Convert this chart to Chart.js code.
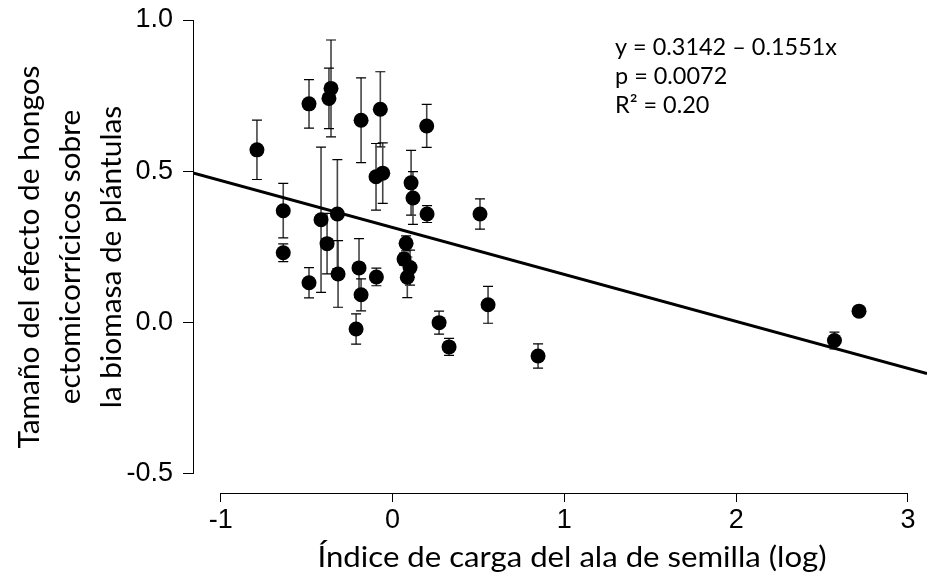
<!DOCTYPE html>
<html><head><meta charset="utf-8">
<script src="https://cdn.jsdelivr.net/npm/chart.js@4.4.1/dist/chart.umd.min.js"></script>
<style>html,body{margin:0;padding:0;background:#fff;}#wrap{width:927px;height:585px;}</style>
</head><body><div id="wrap"><canvas id="c" width="927" height="585"></canvas></div>
<script>
// ---- data ----
const xVals = [-0.789, -0.636, -0.636, -0.486, -0.486, -0.416, -0.381, -0.358, -0.370, -0.321,
               -0.317, -0.183, -0.195, -0.183, -0.212, -0.071, -0.096, -0.057, -0.094, 0.108,
               0.119, 0.201, 0.199, 0.509, 0.079, 0.067, 0.102, 0.086, 0.556, 0.271,
               0.329, 0.847, 2.715, 2.572];
const yVals = [0.571, 0.370, 0.231, 0.723, 0.132, 0.340, 0.261, 0.774, 0.741, 0.359,
               0.161, 0.669, 0.181, 0.092, -0.021, 0.705, 0.482, 0.494, 0.151, 0.462,
               0.412, 0.359, 0.650, 0.359, 0.262, 0.210, 0.182, 0.150, 0.059, 0.000,
               -0.080, -0.110, 0.038, -0.059];
const yErr  = [0.098, 0.090, 0.029, 0.080, 0.050, 0.240, 0.100, 0.160, 0.100, 0.180,
               0.110, 0.140, 0.097, 0.053, 0.050, 0.124, 0.110, 0.100, 0.029, 0.107,
               0.087, 0.028, 0.071, 0.050, 0.025, 0.020, 0.058, 0.067, 0.061, 0.038,
               0.028, 0.040, 0.012, 0.028];
const xTickVals = [-1, 0, 1, 2, 3];
const yTickVals = [-0.5, 0.0, 0.5, 1.0];
const fitIntercept = 0.3142;
const fitSlope = -0.1551;
const statLines = ['y = 0.3142 \u2013 0.1551x', 'p = 0.0072', 'R\u00B2 = 0.20'];
const xTitle = '\u00CDndice de carga del ala de semilla (log)';
const yTitleLines = ['Tama\u00F1o del efecto de hongos', 'ectomicorr\u00EDcicos sobre', 'la biomasa de pl\u00E1ntulas'];
const xRange = [-1.1612, 3.1106];
const yRange = [-0.5628, 1.0595];

// ---- plugins ----
const errorBars = {
  id: 'errorBars',
  beforeDatasetsDraw(chart) {
    const {ctx, scales: {x, y}} = chart;
    ctx.save();
    xVals.forEach((xv, i) => {
      const px = x.getPixelForValue(xv);
      const top = y.getPixelForValue(yVals[i] + yErr[i]);
      const bot = y.getPixelForValue(yVals[i] - yErr[i]);
      ctx.strokeStyle = '#444'; ctx.lineWidth = 1.6;
      ctx.beginPath(); ctx.moveTo(px, top); ctx.lineTo(px, bot); ctx.stroke();
      ctx.strokeStyle = '#000'; ctx.lineWidth = 1.2;
      ctx.beginPath();
      ctx.moveTo(px - 5, top); ctx.lineTo(px + 5, top);
      ctx.moveTo(px - 5, bot); ctx.lineTo(px + 5, bot);
      ctx.stroke();
    });
    ctx.restore();
  }
};

const decor = {
  id: 'decor',
  afterDraw(chart) {
    const {ctx, chartArea: a, scales: {x, y}} = chart;
    ctx.save();
    // R-style detached axes
    ctx.strokeStyle = '#000'; ctx.lineWidth = 1;
    const ax = Math.round(a.left) + 0.5;
    ctx.beginPath();
    ctx.moveTo(ax, y.getPixelForValue(yTickVals[yTickVals.length - 1]));
    ctx.lineTo(ax, y.getPixelForValue(yTickVals[0]));
    ctx.stroke();
    const ay = Math.round(a.bottom) + 0.5;
    ctx.beginPath();
    ctx.moveTo(x.getPixelForValue(xTickVals[0]), ay);
    ctx.lineTo(x.getPixelForValue(xTickVals[xTickVals.length - 1]), ay);
    ctx.stroke();

    ctx.fillStyle = '#000';
    // x title
    const fx = '29px Lato';
    ctx.font = fx;
    const kx = 509 / ctx.measureText(xTitle).width;
    ctx.save();
    ctx.translate(572, 567);
    ctx.scale(kx, 1);
    ctx.textAlign = 'center'; ctx.textBaseline = 'alphabetic';
    ctx.fillText(xTitle, 0, 0);
    ctx.restore();

    // y title (three lines, rotated)
    const fy = '29px Lato';
    ctx.font = fy;
    const ky = 383 / ctx.measureText(yTitleLines[0]).width;
    const cxs = [30, 71, 112];
    yTitleLines.forEach((t, i) => {
      ctx.save();
      ctx.translate(cxs[i], 257);
      ctx.rotate(-Math.PI / 2);
      ctx.scale(ky, 1);
      ctx.font = fy;
      ctx.textAlign = 'center'; ctx.textBaseline = 'middle';
      ctx.fillText(t, 0, 0);
      ctx.restore();
    });

    // regression statistics
    const fs = '24px Lato';
    ctx.font = fs;
    const ks = 222 / ctx.measureText(statLines[0]).width;
    const bases = [55, 84, 113];
    statLines.forEach((t, i) => {
      ctx.save();
      ctx.translate(615, bases[i]);
      ctx.scale(ks, 1);
      ctx.font = fs;
      ctx.textAlign = 'left'; ctx.textBaseline = 'alphabetic';
      ctx.fillText(t, 0, 0);
      ctx.restore();
    });
    ctx.restore();
  }
};

const fitLine = xRange.map(v => ({x: v, y: fitIntercept + fitSlope * v}));

new Chart(document.getElementById('c'), {
  type: 'scatter',
  data: {
    datasets: [
      {
        label: 'Especies',
        data: xVals.map((v, i) => ({x: v, y: yVals[i]})),
        backgroundColor: '#000', borderColor: '#000', borderWidth: 0,
        pointRadius: 7.5, pointHoverRadius: 7.5
      },
      {
        type: 'line', label: 'Ajuste', data: fitLine,
        borderColor: '#000', borderWidth: 3, pointRadius: 0, fill: false, tension: 0
      }
    ]
  },
  options: {
    responsive: false, animation: false, devicePixelRatio: 1,
    layout: {autoPadding: false, padding: {top: 2, left: 0, right: 0, bottom: 0}},
    plugins: {legend: {display: false}, tooltip: {enabled: false}},
    scales: {
      x: {
        type: 'linear', min: xRange[0], max: xRange[1],
        afterBuildTicks: s => { s.ticks = xTickVals.map(v => ({value: v})); },
        afterFit: s => { s.height = 92; s.paddingLeft = 0; s.paddingRight = 0; },
        grid: {display: true, drawOnChartArea: false, drawTicks: true, tickLength: 9, color: '#000', lineWidth: 1},
        border: {display: false},
        ticks: {font: {family: 'Liberation Sans', size: 27}, color: '#000', padding: 2,
                maxRotation: 0, autoSkip: false, callback: v => String(v)}
      },
      y: {
        type: 'linear', min: yRange[0], max: yRange[1],
        afterBuildTicks: s => { s.ticks = yTickVals.map(v => ({value: v})); },
        afterFit: s => { s.width = 193; s.paddingTop = 0; s.paddingBottom = 0; },
        grid: {display: true, drawOnChartArea: false, drawTicks: true, tickLength: 10, color: '#000', lineWidth: 1},
        border: {display: false},
        ticks: {font: {family: 'Liberation Sans', size: 27}, color: '#000', padding: 10,
                autoSkip: false, callback: v => v.toFixed(1)}
      }
    }
  },
  plugins: [errorBars, decor]
});
</script></body></html>
